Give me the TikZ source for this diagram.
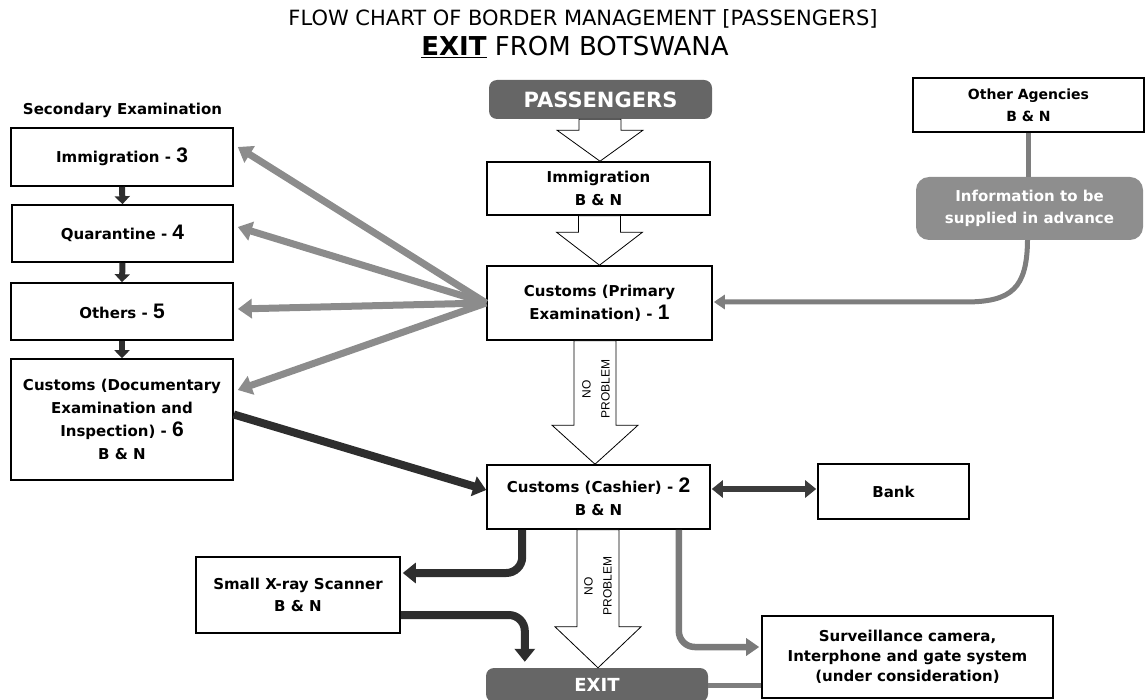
\documentclass[tikz,border=0pt]{standalone}
\usepackage{fontspec}
\setmainfont{DejaVu Sans}
\newfontfamily\narrowfont{Liberation Sans}
\usetikzlibrary{arrows.meta,calc}
\definecolor{fangray}{HTML}{8C8C8C}
\definecolor{blk}{HTML}{2E2E2E}
\definecolor{survgray}{HTML}{7A7A7A}
\definecolor{bankgray}{HTML}{3C3C3C}
\definecolor{infogray}{HTML}{7E7E7E}
\definecolor{passgray}{HTML}{666666}
\definecolor{infofill}{HTML}{8E8E8E}
\newcommand{\bignum}[1]{{\narrowfont\bfseries\fontsize{21}{21}\selectfont #1}}
\newcommand{\hollowarrow}[4]{%
  \filldraw[hollowstyle] let \p1=(#1), \p2=(#2) in
   (\x2-21pt+#4,\y1) -- (\x2-21pt+#4,\y2+#3) -- (\x2-43pt+#4,\y2+#3) -- (\x2+#4,\y2)
   -- (\x2+43pt+#4,\y2+#3) -- (\x2+21pt+#4,\y2+#3) -- (\x2+21pt+#4,\y1) -- cycle;}
\begin{document}
\begin{tikzpicture}[x=1pt,y=-1pt,
  box/.style={draw=black,line width=1.6pt,fill=white,align=center,inner sep=0pt,
    font=\bfseries\fontsize{15}{23}\selectfont},
  greybox/.style={draw=none,fill=passgray,text=white,align=center,inner sep=0pt,
    rounded corners=8pt,font=\bfseries\fontsize{21}{21}\selectfont},
  infobox/.style={draw=none,fill=infofill,text=white,align=center,inner sep=0pt,
    rounded corners=13pt,font=\bfseries\fontsize{15}{22}\selectfont},
  hollowstyle/.style={draw=black,line width=0.8pt,fill=white},
  nptext/.style={rotate=90,align=center,font=\narrowfont\fontsize{12}{19}\selectfont},
  fanarr/.style={draw=fangray,line width=7pt,-{Triangle[width=19pt,length=14pt]}},
  blkarr/.style={draw=blk,line width=8pt,-{Triangle[width=20pt,length=13pt]}},
  downarr/.style={draw=blk,line width=6pt,-{Triangle[width=15pt,length=8pt]}},
  survarr/.style={draw=survgray,line width=6.5pt,rounded corners=16pt,-{Triangle[width=17pt,length=13pt]}},
  bankarr/.style={draw=bankgray,line width=6pt,{Triangle[width=17pt,length=11pt]}-{Triangle[width=17pt,length=11pt]}},
  infoline/.style={draw=infogray,line width=5pt},
  infoarr/.style={infoline,-{Triangle[width=14pt,length=11pt]}}
]
\useasboundingbox (0,0) rectangle (1145,700);

% titles
\node (title) at (583,19) {\fontsize{21}{21}\selectfont FLOW CHART OF BORDER MANAGEMENT [PASSENGERS]};
\node (subtitle) at (575,47) {\fontsize{26}{26}\selectfont\underline{\textbf{EXIT}} FROM BOTSWANA};
\node (sec) at (122.5,110) {\bfseries\fontsize{15}{15}\selectfont Secondary Examination};

% central column
\node[greybox,minimum width=223pt,minimum height=39pt] (pass) at (600.5,99.5) {PASSENGERS};
\node[box,minimum width=223pt,minimum height=53pt] (imm) at (598.5,188.5) {Immigration\\B \& N};
\node[box,minimum width=225pt,minimum height=74pt] (cust1) at (599.5,303) {Customs (Primary\\Examination) - \bignum{1}};
\node[box,minimum width=223pt,minimum height=64pt] (cash) at (598.5,497) {Customs (Cashier) - \bignum{2}\\B \& N};
\node[greybox,minimum width=222pt,minimum height=34pt,font=\bfseries\fontsize{18}{18}\selectfont] (exitn) at (597,685) {EXIT};

% right side
\node[box,minimum width=231pt,minimum height=54pt,font=\bfseries\fontsize{14}{22}\selectfont] (other) at (1028.5,105) {Other Agencies\\B \& N};
\node[infobox,minimum width=227pt,minimum height=63pt] (info) at (1029.5,208.5) {Information to be\\supplied in advance};
\node[box,minimum width=151pt,minimum height=55pt] (bank) at (893.5,491.5) {Bank};
\node[box,minimum width=291pt,minimum height=82pt,font=\bfseries\fontsize{15}{20}\selectfont] (surv) at (907.5,657) {Surveillance camera,\\Interphone and gate system\\(under consideration)};
\node[box,minimum width=204pt,minimum height=76pt,font=\bfseries\fontsize{15}{22}\selectfont] (xray) at (298,595) {Small X-ray Scanner\\B \& N};

% left column
\node[box,minimum width=222pt,minimum height=58pt] (imm3) at (122,157) {Immigration - \bignum{3}};
\node[box,minimum width=221pt,minimum height=57pt] (quar) at (122.5,233.5) {Quarantine - \bignum{4}};
\node[box,minimum width=222pt,minimum height=57pt] (oth) at (122,311.5) {Others - \bignum{5}};
\node[box,minimum width=222pt,minimum height=121pt] (cust6) at (122,419.5) {Customs (Documentary\\Examination and\\Inspection) - \bignum{6}\\B \& N};

% hollow block arrows
\hollowarrow{pass.south}{imm.north}{31pt}{1.5pt}
\hollowarrow{imm.south}{cust1.north}{33pt}{0pt}
\hollowarrow{cust1.south}{cash.north}{39pt}{-3.5pt}
\hollowarrow{cash.south}{exitn.north}{41pt}{1pt}
\node[nptext] (np1) at (596,389) {NO\\PROBLEM};
\node[nptext] (np2) at (598,586) {NO\\PROBLEM};

% small down arrows on the left
\draw[downarr] (imm3.south) -- (quar.north);
\draw[downarr] (quar.south) -- (oth.north);
\draw[downarr] (oth.south) -- (cust6.north);

% fan of arrows from primary examination
\draw[fanarr] (cust1.west) -- ($(imm3.east)+(4,-10)$);
\draw[fanarr] (cust1.west) -- ($(quar.east)+(4,-6.5)$);
\draw[fanarr] (cust1.west) -- ($(oth.east)+(4,-2.5)$);
\draw[fanarr] (cust1.west) -- ($(cust6.east)+(4,-29.5)$);

% documentary to cashier
\draw[blkarr] ($(cust6.east)+(0,-5)$) -- ($(cash.west)+(0,-7)$);

% bank
\draw[bankarr] ($(cash.east)+(1,-8)$) -- ($(bank.west)+(-1,-2.5)$);

% cashier to x-ray and x-ray to exit
\draw[blkarr,rounded corners=16pt] ($(cash.south west)+(36,0)$) |- ($(xray.east)+(2,-22)$);
\draw[blkarr,rounded corners=16pt] ($(xray.east)+(0,20)$) -| ($(exitn.north west)+(39,-6)$);

% cashier to surveillance
\draw[survarr] ($(cash.south east)+(-32,0)$) |- ($(surv.west)+(-2,-10)$);
\draw[infoline] (exitn.east) -- (exitn.east -| surv.west);

% other agencies
\draw[infoline] (other.south) -- (other.south |- info.north);
\coordinate (bend) at (965,302);
\draw[infoarr] ($(info.south)+(-2,0)$) .. controls (1027,288) and (1012,302) .. (bend) -- ($(cust1.east)+(1,-1)$);
\end{tikzpicture}
\end{document}
